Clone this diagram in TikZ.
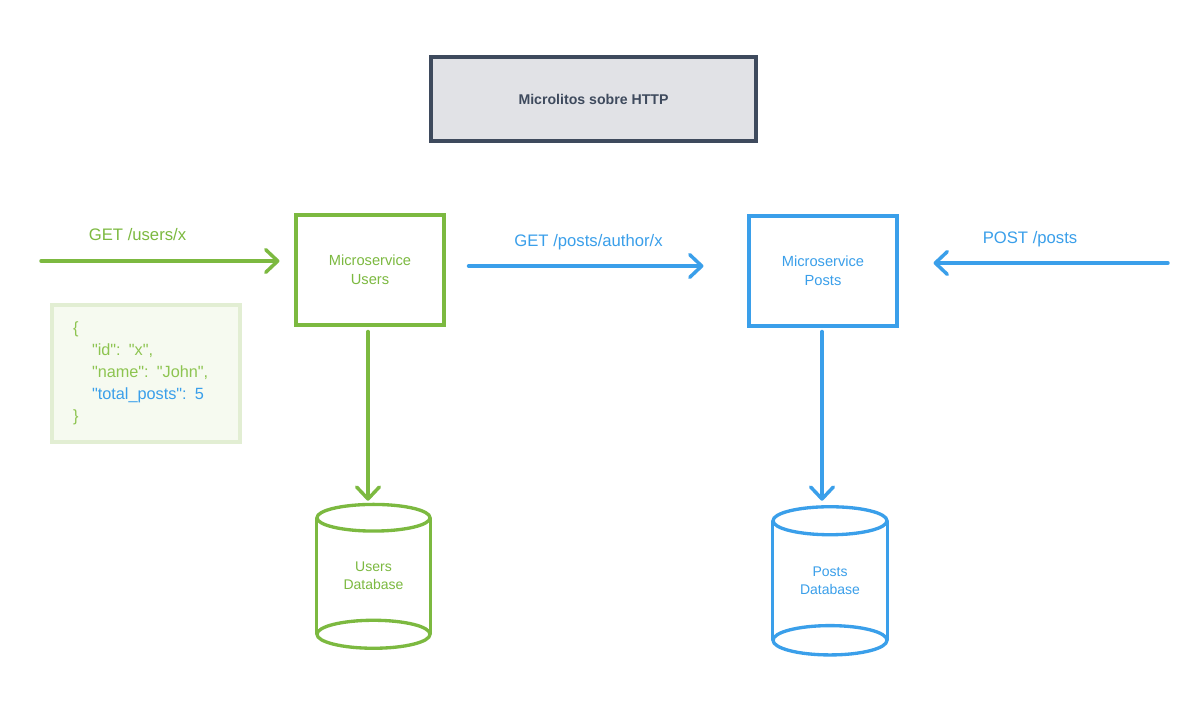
\documentclass[tikz,border=0pt]{standalone}
\usepackage{fontspec}
\setmainfont{Liberation Sans}
\newfontfamily\jsonfont{Liberation Sans}[Ligatures=TeXOff]
\usetikzlibrary{arrows.meta}
\definecolor{ugreen}{HTML}{7CB940}
\definecolor{jgreen}{HTML}{8DC450}
\definecolor{ublue}{HTML}{3A9FEA}
\definecolor{tborder}{HTML}{3E4A5D}
\definecolor{tfill}{HTML}{E1E2E6}
\definecolor{jfill}{HTML}{F6FAF0}
\definecolor{jborder}{HTML}{E2EED3}
\tikzset{
  titlebox/.style={draw=tborder, fill=tfill, line width=2.3pt, minimum width=243.75pt, minimum height=63pt, text=tborder, font=\fontsize{10.6pt}{13pt}\selectfont\bfseries},
  svcbox/.style={draw=#1, text=#1, line width=2.3pt, minimum width=111pt, minimum height=82.5pt, align=center, font=\fontsize{11pt}{14.25pt}\selectfont},
  dbnode/.style={text=#1, minimum width=85pt, minimum height=87pt, align=center, font=\fontsize{10.5pt}{13.5pt}\selectfont},
  dbline/.style={draw=#1, line width=2.5pt},
  arr/.style={draw=#1, line width=2.6pt, line cap=round, -{Straight Barb[length=9pt,width=17pt,line cap=round,round]}},
  lbl/.style={text=#1, anchor=base, font=\fontsize{12.5pt}{15pt}\selectfont},
  jsonbox/.style={draw=jborder, fill=jfill, line width=3pt, minimum width=141pt, minimum height=102.75pt, text width=109.5pt, inner xsep=0pt, align=left, text=jgreen, font=\jsonfont\fontsize{12.2pt}{16.5pt}\selectfont}
}
\begin{document}
\begin{tikzpicture}[x=0.75pt,y=-0.75pt]
\fill[white] (0,0) rectangle (1200,707);
\useasboundingbox (0,0) rectangle (1200,707);

% title
\node[titlebox] (title) at (593.5,99) {Microlitos sobre HTTP};

% services
\node[svcbox=ugreen] (users) at (370,270) {Microservice\\Users};
\node[svcbox=ublue] (posts) at (823,271) {Microservice\\Posts};

% databases
\node[dbnode=ugreen, minimum width=84.75pt, minimum height=87pt] (udb) at (373.5,576) {Users\\Database};
\draw[dbline=ugreen] (udb.north west) -- (udb.south west) (udb.north east) -- (udb.south east);
\draw[dbline=ugreen] (udb.north) ellipse [x radius=42.4pt, y radius=10pt];
\draw[dbline=ugreen] (udb.south) ellipse [x radius=42.4pt, y radius=10.5pt];

\node[dbnode=ublue, minimum width=85.5pt, minimum height=89.25pt] (pdb) at (830,580.5) {Posts\\Database};
\draw[dbline=ublue] (pdb.north west) -- (pdb.south west) (pdb.north east) -- (pdb.south east);
\draw[dbline=ublue] (pdb.north) ellipse [x radius=42.75pt, y radius=10.5pt];
\draw[dbline=ublue] (pdb.south) ellipse [x radius=42.75pt, y radius=11pt];

% json box
\node[jsonbox] (json) at (146,373.5) {\{\\
\hspace*{14.25pt}"id": "x",\\
\hspace*{14.25pt}"name": "John",\\
\hspace*{14.25pt}\textcolor{ublue}{"total\_posts": 5}\\
\}};

% connectors
\coordinate (uin) at (41,261);
\draw[arr=ugreen, shorten >=11.25pt] (uin) -- (uin -| users.west);
\node[lbl=ugreen] (luin) at (137.5,240) {GET /users/x};

\draw[arr=ublue, shorten <=17.25pt, shorten >=33pt] ([yshift=3pt]users.east) -- ([yshift=3pt]users.east -| posts.west);
\node[lbl=ublue] (lpa) at (588.5,246) {GET /posts/author/x};

\coordinate (pin) at (1168,263);
\draw[arr=ublue, shorten >=26.25pt] (pin) -- (pin -| posts.east);
\node[lbl=ublue] (lpin) at (1030,243) {POST /posts};

\draw[arr=ugreen, shorten <=3.75pt, shorten >=12.75pt] ([xshift=-1.5pt]users.south) -- ([xshift=-1.5pt]users.south |- udb.north);
\draw[arr=ublue, shorten <=3pt, shorten >=15pt] ([xshift=-0.75pt]posts.south) -- ([xshift=-0.75pt]posts.south |- pdb.north);
\end{tikzpicture}
\end{document}
